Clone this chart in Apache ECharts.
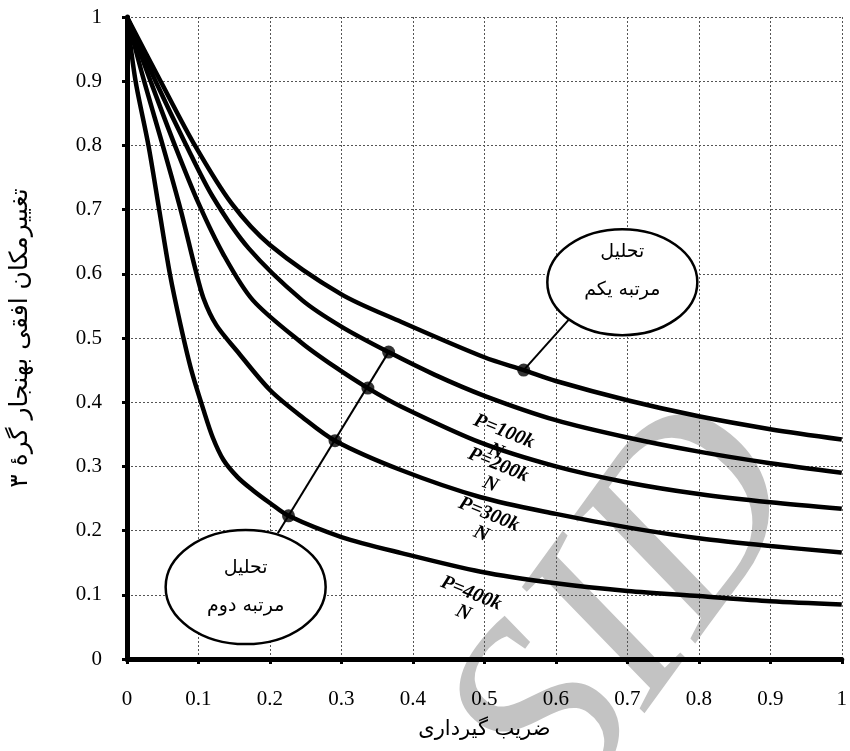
<!DOCTYPE html>
<html>
<head>
<meta charset="utf-8">
<script src="https://cdn.jsdelivr.net/npm/echarts@6/dist/echarts.min.js"></script>
<style>
  html, body { margin: 0; padding: 0; background: #fff; }
  #chart { width: 850px; height: 751px; }
</style>
</head>
<body>
<div id="chart"></div>
<script>
// Normalised lateral displacement of node 3 versus fixity factor
// First-order (linear) analysis curve
const curveFirstOrder = [[0,1],[0.047,0.9],[0.095,0.8],[0.146,0.71],[0.2,0.645],[0.3,0.568],[0.384,0.525],[0.5,0.47],[0.555,0.45],[0.6,0.433],[0.7,0.403],[0.8,0.378],[0.9,0.358],[1,0.342]];
// Second-order analysis curves, one per axial load
const curveP100 = [[0,1],[0.04,0.9],[0.083,0.8],[0.12,0.72],[0.17,0.64],[0.245,0.559],[0.301,0.517],[0.366,0.478],[0.43,0.443],[0.5,0.41],[0.6,0.372],[0.7,0.345],[0.8,0.323],[0.9,0.305],[1,0.29]];
const curveP200 = [[0,1],[0.033,0.9],[0.067,0.8],[0.1,0.71],[0.135,0.63],[0.176,0.559],[0.245,0.492],[0.291,0.455],[0.337,0.422],[0.384,0.393],[0.495,0.337],[0.6,0.3],[0.7,0.275],[0.8,0.257],[0.9,0.244],[1,0.234]];
const curveP300 = [[0,1],[0.024,0.9],[0.05,0.8],[0.075,0.7],[0.095,0.61],[0.107,0.562],[0.125,0.52],[0.153,0.481],[0.2,0.419],[0.245,0.377],[0.291,0.34],[0.384,0.294],[0.495,0.252],[0.6,0.226],[0.7,0.205],[0.8,0.188],[0.9,0.176],[1,0.166]];
const curveP400 = [[0,1],[0.012,0.9],[0.03,0.8],[0.045,0.7],[0.06,0.6],[0.075,0.52],[0.09,0.45],[0.107,0.388],[0.12,0.345],[0.135,0.31],[0.155,0.283],[0.176,0.263],[0.2,0.243],[0.226,0.223],[0.3,0.19],[0.384,0.165],[0.495,0.136],[0.6,0.118],[0.7,0.106],[0.8,0.098],[0.9,0.09],[1,0.085]];

// Marked points
const firstOrderPoint = [[0.555, 0.45]];
const secondOrderPoints = [[0.366, 0.478], [0.337, 0.422], [0.291, 0.34], [0.226, 0.223]];

// Callout leader lines (data coordinates)
const firstOrderLeader = [[0.555, 0.45], [0.62, 0.531]];
const secondOrderLeader = [[0.366, 0.478], [0.211, 0.196]];

// Callout bubbles: centre in data coordinates, radii and text offset in pixels
const bubbleFirst = { center: [0.693, 0.587], rx: 75, ry: 53, textShift: -11, lines: ['تحلیل', 'مرتبه یکم'] };
const bubbleSecond = { center: [0.166, 0.112], rx: 80, ry: 57, textShift: 0, lines: ['تحلیل', 'مرتبه دوم'] };

// Load labels and their anchor points
const loadLabels = ['P=100k\nN', 'P=200k\nN', 'P=300k\nN', 'P=400k\nN'];
const loadLabelAnchors = [[0.522, 0.339], [0.514, 0.287], [0.501, 0.21], [0.476, 0.087]];

const xTitle = 'ضریب گیرداری';
const yTitle = 'تغییرمکان افقی بهنجار گرهٔ ۳';

const serif = '"Liberation Serif", "Times New Roman", serif';
const arabicFont = '"DejaVu Sans", sans-serif';

const chart = echarts.init(document.getElementById('chart'), null, { renderer: 'canvas' });

function curveSeries(data) {
  return {
    type: 'line',
    data: data,
    smooth: 0.3,
    showSymbol: false,
    lineStyle: { color: '#000', width: 4.5 },
    z: 3,
    silent: true
  };
}

function axisCommon() {
  return {
    type: 'value',
    min: 0,
    max: 1,
    interval: 0.1,
    axisLine: { show: true, onZero: false, lineStyle: { color: '#000', width: 5 } },
    axisTick: { show: true, length: 5, lineStyle: { color: '#000', width: 3 } },
    axisLabel: { color: '#000', fontFamily: serif, fontSize: 21 },
    splitLine: { show: true, lineStyle: { color: '#555', width: 1, type: [2, 2] } }
  };
}

const xAxis = axisCommon();
xAxis.axisLabel.margin = 30;
xAxis.name = xTitle;
xAxis.nameLocation = 'middle';
xAxis.nameGap = 60;
xAxis.nameTextStyle = { fontFamily: arabicFont, fontSize: 21, color: '#000' };

const yAxis = axisCommon();
yAxis.axisLabel.margin = 25;
yAxis.name = yTitle;
yAxis.nameLocation = 'middle';
yAxis.nameGap = 94;
yAxis.nameTextStyle = { fontFamily: arabicFont, fontSize: 25, color: '#000' };

chart.setOption({
  animation: false,
  backgroundColor: '#fff',
  grid: { left: 123, right: 6, top: 17, bottom: 92 },
  xAxis: xAxis,
  yAxis: yAxis,
  series: [
    curveSeries(curveFirstOrder),
    curveSeries(curveP100),
    curveSeries(curveP200),
    curveSeries(curveP300),
    curveSeries(curveP400),
    {
      type: 'line', data: firstOrderLeader, showSymbol: false,
      lineStyle: { color: '#000', width: 2 }, z: 4, silent: true
    },
    {
      type: 'line', data: secondOrderLeader, showSymbol: false,
      lineStyle: { color: '#000', width: 2 }, z: 4, silent: true
    },
    {
      type: 'scatter', data: firstOrderPoint.concat(secondOrderPoints),
      symbol: 'circle', symbolSize: 13, itemStyle: { color: '#000' }, z: 5, silent: true
    }
  ]
});

function px(pt) {
  return chart.convertToPixel({ gridIndex: 0 }, pt);
}

const graphics = [];

// Faint background watermark
graphics.push({
  type: 'text',
  x: 632, y: 612,
  rotation: 54 * Math.PI / 180,
  z: -1,
  silent: true,
  style: {
    text: 'SID',
    font: 'italic 265px ' + serif,
    fill: '#c3c3c3',
    textAlign: 'center',
    textVerticalAlign: 'middle'
  }
});

// Callout bubbles
[bubbleFirst, bubbleSecond].forEach(function (b) {
  const c = px(b.center);
  graphics.push({
    type: 'ellipse',
    shape: { cx: c[0], cy: c[1], rx: b.rx, ry: b.ry },
    style: { fill: '#fff', stroke: '#000', lineWidth: 2.5 },
    z: 10, silent: true
  });
  graphics.push({
    type: 'text', x: c[0], y: c[1] - 19 + b.textShift, z: 11, silent: true,
    style: { text: b.lines[0], font: '19px ' + arabicFont, fill: '#000', textAlign: 'center', textVerticalAlign: 'middle' }
  });
  graphics.push({
    type: 'text', x: c[0], y: c[1] + 19 + b.textShift, z: 11, silent: true,
    style: { text: b.lines[1], font: '19px ' + arabicFont, fill: '#000', textAlign: 'center', textVerticalAlign: 'middle' }
  });
});

// Load labels, tilted along the curves
loadLabels.forEach(function (label, i) {
  const p = px(loadLabelAnchors[i]);
  graphics.push({
    type: 'text', x: p[0], y: p[1],
    rotation: -22 * Math.PI / 180,
    z: 12, silent: true,
    style: {
      text: label,
      font: 'italic bold 20px ' + serif,
      fill: '#000',
      textAlign: 'center',
      textVerticalAlign: 'middle',
      lineHeight: 21
    }
  });
});

chart.setOption({ graphic: graphics });
</script>
</body>
</html>
